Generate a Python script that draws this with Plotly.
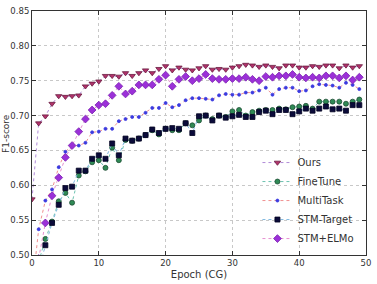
import plotly.graph_objects as go

epochs_ours = list(range(0, 50))
ours = [0.580, 0.689, 0.699, 0.717, 0.728, 0.727, 0.728, 0.729, 0.742, 0.746,
        0.749, 0.757, 0.757, 0.756, 0.761, 0.757, 0.761, 0.765, 0.761, 0.767,
        0.771, 0.765, 0.769, 0.766, 0.765, 0.768, 0.771, 0.766, 0.767, 0.766,
        0.769, 0.771, 0.773, 0.772, 0.770, 0.772, 0.770, 0.768, 0.772, 0.772,
        0.769, 0.769, 0.771, 0.770, 0.772, 0.772, 0.768, 0.772, 0.769, 0.771]

epochs_ft = list(range(1, 50))
finetune = [0.490, 0.523, 0.548, 0.577, 0.589, 0.575, 0.614, 0.620, 0.633, 0.636,
            0.625, 0.654, 0.636, 0.665, 0.664, 0.667, 0.672, 0.679, 0.673, 0.681,
            0.679, 0.679, 0.689, 0.686, 0.693, 0.700, 0.695, 0.700, 0.698, 0.706,
            0.708, 0.700, 0.705, 0.707, 0.708, 0.708, 0.710, 0.709, 0.712, 0.713,
            0.714, 0.710, 0.720, 0.720, 0.720, 0.720, 0.717, 0.720, 0.723]

epochs_mt = list(range(0, 50))
multitask = [0.450, 0.537, 0.578, 0.594, 0.626, 0.648, 0.657, 0.657, 0.661, 0.676,
             0.677, 0.681, 0.681, 0.692, 0.695, 0.698, 0.698, 0.704, 0.711, 0.711,
             0.718, 0.712, 0.715, 0.722, 0.725, 0.725, 0.724, 0.723, 0.729, 0.731,
             0.730, 0.730, 0.733, 0.733, 0.736, 0.740, 0.730, 0.738, 0.740, 0.740,
             0.735, 0.736, 0.742, 0.745, 0.744, 0.743, 0.740, 0.747, 0.744, 0.738]

epochs_st = list(range(1, 50))
stm_target = [0.480, 0.514, 0.546, 0.572, 0.596, 0.598, 0.621, 0.621, 0.638, 0.643,
              0.638, 0.660, 0.643, 0.667, 0.664, 0.667, 0.672, 0.680, 0.675, 0.681,
              0.682, 0.681, 0.689, 0.675, 0.699, 0.700, 0.693, 0.700, 0.697, 0.699,
              0.701, 0.698, 0.698, 0.705, 0.707, 0.702, 0.708, 0.708, 0.702, 0.706,
              0.710, 0.707, 0.710, 0.713, 0.709, 0.710, 0.707, 0.715, 0.715]

epochs_el = list(range(1, 50))
stm_elmo = [0.495, 0.546, 0.585, 0.611, 0.640, 0.657, 0.677, 0.695, 0.708, 0.715,
            0.717, 0.729, 0.742, 0.731, 0.735, 0.744, 0.744, 0.744, 0.752, 0.758,
            0.742, 0.752, 0.756, 0.750, 0.753, 0.759, 0.753, 0.752, 0.752, 0.753,
            0.753, 0.755, 0.752, 0.750, 0.756, 0.755, 0.757, 0.757, 0.759, 0.755,
            0.754, 0.755, 0.754, 0.757, 0.757, 0.754, 0.757, 0.751, 0.755]

x_ticks = [0, 10, 20, 30, 40, 50]
y_ticks = [0.50, 0.55, 0.60, 0.65, 0.70, 0.75, 0.80, 0.85]

series = [
    ("Ours", epochs_ours, ours, "triangle-down", 5.5, "#b2336b", "#6a1a40", "#b18bd8"),
    ("FineTune", epochs_ft, finetune, "circle", 5, "#2f8a55", "#1d4d33", "#6cc3b0"),
    ("MultiTask", epochs_mt, multitask, "circle", 3, "#3a3ae0", "#3a3ae0", "#f09090"),
    ("STM-Target", epochs_st, stm_target, "square", 5, "#0b0b3a", "#000020", "#7fb8e0"),
    ("STM+ELMo", epochs_el, stm_elmo, "diamond", 6, "#9b30d8", "#7a20b0", "#e690d0"),
]

fig = go.Figure()
for name, xs, ys, sym, size, fill, edge, lc in series:
    fig.add_trace(go.Scatter(
        x=xs, y=ys, name=name, mode="lines+markers",
        line=dict(color=lc, width=1, dash="dot"),
        marker=dict(symbol=sym, size=size, color=fill,
                    line=dict(color=edge, width=0.8)),
    ))

axis_common = dict(
    showline=True, linecolor="#333", linewidth=1, mirror="allticks",
    ticks="inside", ticklen=4, tickcolor="#333",
    showgrid=True, gridcolor="#c8c8c8", griddash="dot", gridwidth=1,
    zeroline=False, tickfont=dict(family="DejaVu Sans", size=8.5, color="#333"),
)

fig.update_xaxes(range=[0, 50], tickvals=x_ticks,
                 title=dict(text="Epoch (CG)", font=dict(family="DejaVu Sans", size=10, color="#333"),
                            standoff=3),
                 **axis_common)
fig.update_yaxes(range=[0.50, 0.85], tickvals=y_ticks, tickformat=".2f", **axis_common)

fig.add_annotation(text="F1-score", textangle=-90, xref="paper", yref="paper",
                   x=-0.078, y=0.5, xanchor="center", yanchor="middle", showarrow=False,
                   font=dict(family="DejaVu Sans", size=9, color="#333"))

fig.update_layout(
    width=377, height=284,
    margin=dict(l=32, r=7, t=6, b=28),
    paper_bgcolor="white", plot_bgcolor="white",
    showlegend=True,
    legend=dict(x=0.675, y=0.008, xanchor="left", yanchor="bottom",
                bgcolor="rgba(255,255,255,0)", borderwidth=0,
                font=dict(family="DejaVu Sans", size=10, color="#333"),
                tracegroupgap=0, itemwidth=30),
)

fig.write_html("out.html")
